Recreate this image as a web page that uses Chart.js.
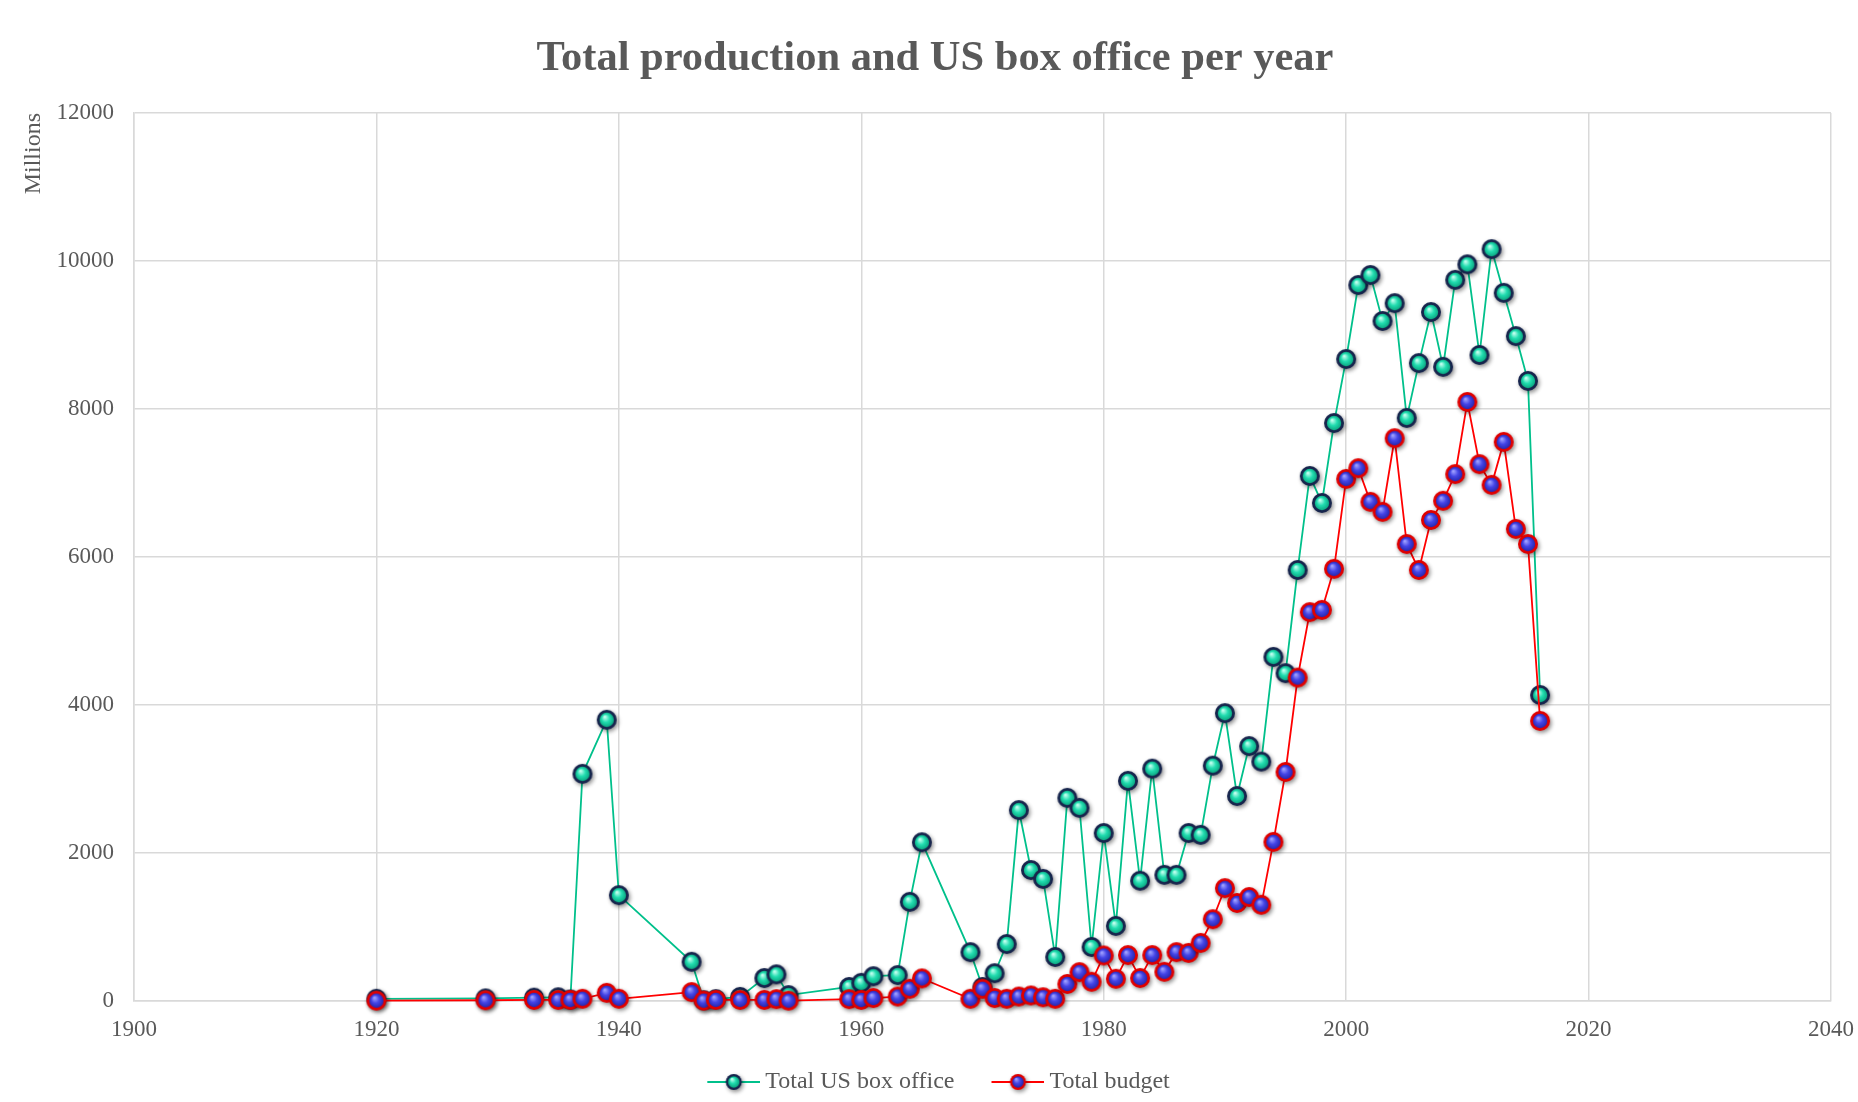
<!DOCTYPE html>
<html>
<head>
<meta charset="utf-8">
<script src="https://cdn.jsdelivr.net/npm/chart.js@4/dist/chart.umd.min.js"></script>
<style>
  html, body { margin: 0; padding: 0; background: #fff; }
  #wrap { width: 1858px; height: 1102px; }
</style>
</head>
<body>
<div id="wrap"><canvas id="myChart"></canvas></div>
<script>
const years = [1920,1929,1933,1935,1936,1937,1939,1940,1946,1947,1948,1950,1952,1953,1954,
  1959,1960,1961,1963,1964,1965,1969,
  1970,1971,1972,1973,1974,1975,1976,1977,1978,1979,
  1980,1981,1982,1983,1984,1985,1986,1987,1988,1989,
  1990,1991,1992,1993,1994,1995,1996,1997,1998,1999,
  2000,2001,2002,2003,2004,2005,2006,2007,2008,2009,
  2010,2011,2012,2013,2014,2015,2016];

const boxOffice = [30,35,45,50,20,3070,3800,1430,530,10,25,55,310,360,80,
  190,245,335,350,1340,2145,660,
  190,375,770,2580,1770,1650,595,2745,2610,730,
  2270,1015,2975,1625,3140,1705,1705,2270,2245,3180,
  3890,2770,3445,3235,4650,4430,5825,7095,6730,7810,
  8675,9675,9810,9190,9430,7880,8620,9310,8570,9745,
  9955,8730,10160,9570,8985,8380,4135];

const budget = [5,10,15,15,15,30,110,30,120,5,15,15,15,25,5,
  25,15,40,60,165,305,30,
  165,40,30,60,75,50,30,230,390,260,
  615,300,620,310,620,395,660,650,785,1105,
  1525,1325,1405,1300,2150,3095,4370,5255,5285,5840,
  7055,7200,6745,6610,7605,6175,5825,6500,6760,7120,
  8095,7255,6975,7555,6380,6175,3785];

const xTicks = [1900, 1920, 1940, 1960, 1980, 2000, 2020, 2040];
const yTicks = [0, 2000, 4000, 6000, 8000, 10000, 12000];

const seriesNames = ['Total US box office', 'Total budget'];

// shiny ball marker; for the legend a line runs through it and the
// image gets an empty strip on the left (to space the legend items)
function makeMarker(light, mid, dark, border, lineColor, width, lineLen, r) {
  const c = document.createElement('canvas');
  const h = 32;
  c.width = width; c.height = h;
  const g = c.getContext('2d');
  const cx = lineLen ? width - lineLen / 2 : width / 2, cy = h / 2;
  if (lineColor) {
    g.strokeStyle = lineColor;
    g.lineWidth = 2;
    g.beginPath(); g.moveTo(width - lineLen, cy); g.lineTo(width, cy); g.stroke();
  }
  g.save();
  g.shadowColor = 'rgba(0,0,0,0.45)';
  g.shadowBlur = 4;
  g.shadowOffsetX = 1.5;
  g.shadowOffsetY = 2;
  g.beginPath(); g.arc(cx, cy, r, 0, Math.PI * 2);
  g.fillStyle = border; g.fill();
  g.restore();
  const grad = g.createRadialGradient(cx - 2, cy - 3, 0.5, cx, cy, r - 2.5);
  grad.addColorStop(0, light);
  grad.addColorStop(0.5, mid);
  grad.addColorStop(1, dark);
  g.beginPath(); g.arc(cx, cy, r - r * 0.28, 0, Math.PI * 2);
  g.fillStyle = grad; g.fill();
  return c;
}

const greenLine = '#00c08b';
const redLine = '#ff0000';
const greenPt = makeMarker('#c4fff0', '#22ddb0', '#0ba57f', '#17254d', null, 32, 0, 10);
const bluePt = makeMarker('#a0a0ff', '#4444e6', '#2626aa', '#e00000', null, 32, 0, 10);
const greenLeg = makeMarker('#c4fff0', '#22ddb0', '#0ba57f', '#17254d', greenLine, 77, 53, 8);
const blueLeg = makeMarker('#a0a0ff', '#4444e6', '#2626aa', '#e00000', redLine, 77, 53, 8);

const toPoints = vals => years.map((y, i) => ({ x: y, y: vals[i] }));

const serif = '"Liberation Serif", "Times New Roman", serif';
const grey = '#595959';

// nudge title and legend a little, like the original
const nudge = {
  id: 'nudge',
  afterLayout(chart) {
    chart.titleBlock.left += 19.5; chart.titleBlock.right += 19.5;
    chart.legend.left += 14.5; chart.legend.right += 14.5;
    chart.legend.top += 2; chart.legend.bottom += 2;
  }
};

new Chart(document.getElementById('myChart'), {
  type: 'scatter',
  data: {
    datasets: [{
      label: seriesNames[0],
      data: toPoints(boxOffice),
      showLine: true,
      borderColor: greenLine,
      backgroundColor: greenLine,
      borderWidth: 1.8,
      pointStyle: greenPt,
      pointRadius: 10,
      clip: false,
      order: 1
    }, {
      label: seriesNames[1],
      data: toPoints(budget),
      showLine: true,
      borderColor: redLine,
      backgroundColor: redLine,
      borderWidth: 1.8,
      pointStyle: bluePt,
      pointRadius: 10,
      clip: false,
      order: 0
    }]
  },
  plugins: [nudge],
  options: {
    responsive: true,
    maintainAspectRatio: false,
    animation: false,
    layout: { padding: { left: 0, right: 27, top: 0, bottom: 0 } },
    plugins: {
      title: {
        display: true,
        text: 'Total production and US box office per year',
        color: grey,
        font: { family: serif, size: 42.5, weight: 'bold' },
        padding: { top: 33.5, bottom: 28.5 }
      },
      legend: {
        position: 'bottom',
        labels: {
          color: grey,
          font: { family: serif, size: 24 },
          usePointStyle: true,
          pointStyleWidth: 63,
          padding: 20,
          generateLabels: chart => chart.data.datasets.map((ds, i) => ({
            text: ds.label,
            pointStyle: i === 0 ? greenLeg : blueLeg,
            fontColor: grey,
            lineWidth: 0,
            strokeStyle: 'transparent',
            fillStyle: 'transparent',
            datasetIndex: i,
            hidden: false
          }))
        }
      },
      tooltip: { enabled: false }
    },
    scales: {
      x: {
        type: 'linear',
        min: xTicks[0],
        max: xTicks[xTicks.length - 1],
        afterBuildTicks: s => { s.ticks = xTicks.map(v => ({ value: v })); },
        afterFit: s => { s.height = 47; s.paddingRight = 0; },
        ticks: {
          color: grey,
          font: { family: serif, size: 23 },
          padding: 15,
          maxRotation: 0,
          callback: v => String(v)
        },
        grid: { color: '#d9d9d9', lineWidth: 1.5, drawTicks: false },
        border: { color: '#d9d9d9', width: 1.5 }
      },
      y: {
        min: yTicks[0],
        max: yTicks[yTicks.length - 1],
        afterBuildTicks: s => { s.ticks = yTicks.map(v => ({ value: v })); },
        afterFit: s => { s.width = 134; },
        ticks: {
          color: grey,
          font: { family: serif, size: 23 },
          padding: 20,
          callback: v => String(v)
        },
        grid: { color: '#d9d9d9', lineWidth: 1.5, drawTicks: false },
        border: { color: '#d9d9d9', width: 1.5 },
        title: {
          display: true,
          text: 'Millions',
          align: 'end',
          color: grey,
          font: { family: serif, size: 24 },
          padding: { top: 19, bottom: 4 }
        }
      }
    }
  }
});
</script>
</body>
</html>
